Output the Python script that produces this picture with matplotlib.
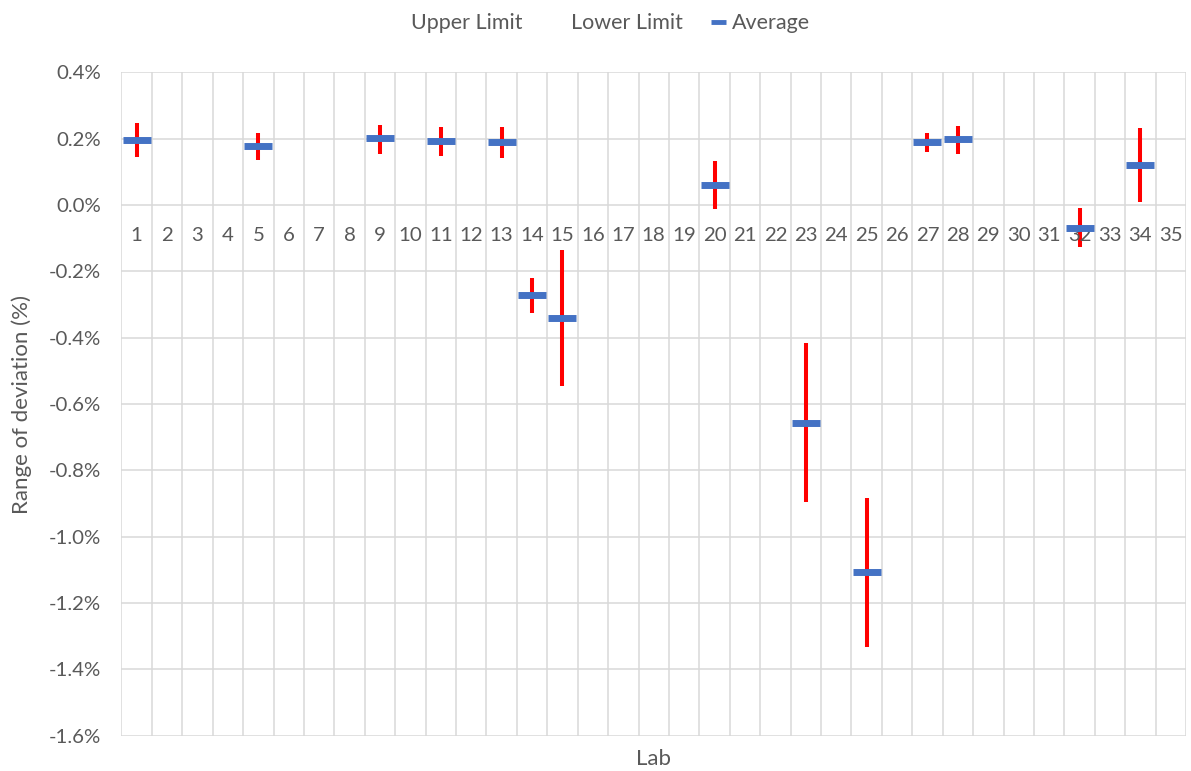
import numpy as np
import matplotlib
matplotlib.use("Agg")
import matplotlib.pyplot as plt
from matplotlib.lines import Line2D
from matplotlib.ticker import FuncFormatter, MultipleLocator

plt.rcParams['font.family'] = ['Lato', 'DejaVu Sans']

# labs 1..35, only some have results
labs = [str(i) for i in range(1, 36)]
lab_ids = [1, 5, 9, 11, 13, 14, 15, 20, 23, 25, 27, 28, 32, 34]
upper = [0.248, 0.217, 0.243, 0.235, 0.235, -0.221, -0.136, 0.134, -0.417, -0.884, 0.216, 0.238, -0.010, 0.232]
lower = [0.145, 0.137, 0.155, 0.148, 0.143, -0.326, -0.547, -0.012, -0.895, -1.333, 0.160, 0.155, -0.127, 0.010]
average = [0.197, 0.178, 0.203, 0.193, 0.190, -0.272, -0.342, 0.061, -0.657, -1.108, 0.189, 0.198, -0.069, 0.121]

grey = '#595959'
blue = '#4472C4'

fig = plt.figure(figsize=(11.91, 7.71), dpi=100)
ax = fig.add_axes([0.102, 0.046, 0.8938, 0.86])

# error ranges (red) and averages (blue dashes)
ax.vlines(lab_ids, lower, upper, color='#FF0000', lw=2.9, zorder=3)
ax.plot(lab_ids, average, linestyle='none', marker='_', ms=20.5, mew=5,
        color=blue, zorder=4)

ax.set_xlim(0.5, 35.5)
ax.set_ylim(-1.6, 0.4)
ax.yaxis.set_major_locator(MultipleLocator(0.2))
ax.yaxis.set_major_formatter(FuncFormatter(lambda v, p: f'{v:.1f}%'))
ax.set_xticks(np.arange(0.5, 36, 1), minor=True)
ax.set_xticks([])
ax.grid(True, which='minor', axis='x', color='#D9D9D9', lw=1.1)
ax.grid(True, which='major', axis='y', color='#D9D9D9', lw=1.1)
ax.set_axisbelow(True)
for s in ax.spines.values():
    s.set_visible(False)
ax.tick_params(axis='y', length=0, pad=15, labelsize=14.7, labelcolor=grey)
ax.tick_params(axis='x', which='both', length=0)

# category labels sit next to the zero line
for i, lab in enumerate(labs):
    ax.annotate(lab, (i + 1, 0), xytext=(0, -16), textcoords='offset points',
                ha='center', va='top', fontsize=14.7, color=grey)

ax.set_ylabel('Range of deviation (%)', fontsize=16, color=grey, labelpad=12)
ax.set_xlabel('Lab', fontsize=16, color=grey, labelpad=6)

handles = [Line2D([], [], color='none', lw=4),
           Line2D([], [], color='none', lw=4),
           Line2D([], [], color=blue, lw=3.5, solid_capstyle='butt')]
fig.legend(handles, ['Upper Limit', 'Lower Limit', 'Average'], loc='upper center',
           bbox_to_anchor=(0.504, 1.008), ncol=3, frameon=False, fontsize=15.5,
           labelcolor=grey, handlelength=0.7, handletextpad=0.25, columnspacing=1.3)

fig.savefig('out.png', dpi=100)
